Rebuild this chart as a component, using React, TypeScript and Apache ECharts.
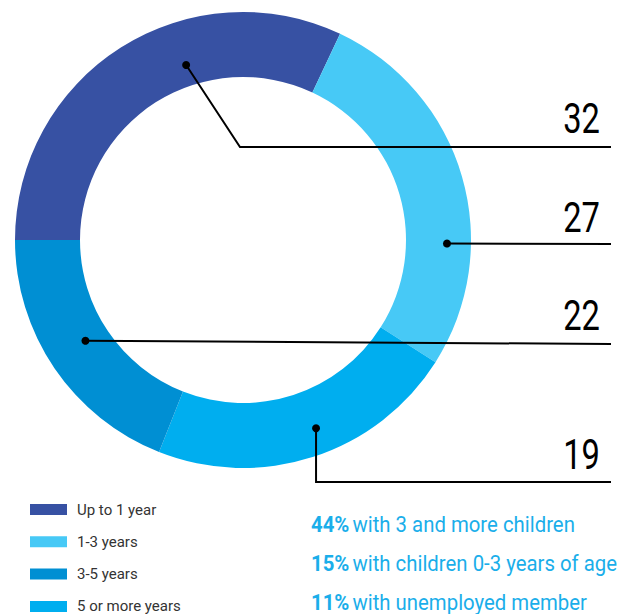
import React, { useEffect, useRef } from "react";
import * as echarts from "echarts";

// Ring slices in clockwise order starting at 9 o'clock
const sliceNames = ["Up to 1 year", "1-3 years", "5 or more years", "3-5 years"];
const sliceValues = [32, 27, 22, 19];
const sliceColors = ["#3751A3", "#47C9F6", "#00AEEF", "#008FD3"];
const legendOrder = ["Up to 1 year", "1-3 years", "3-5 years", "5 or more years"];

// Call-out numbers shown on the right, top to bottom
const calloutTexts = ["32", "27", "22", "19"];
// anchor dot of each call-out in polar coords around the ring centre (deg, px)
const calloutAngles = [108, -1, 212.6, -68.8];
const calloutRadii = [184, 204, 187, 202];

const factValues = ["44%", "15%", "11%"];
const factTexts = ["with 3 and more children", "with children 0-3 years of age", "with unemployed member"];

const FONT = "Roboto, 'Noto Sans', sans-serif";

export default function App() {
  const ref = useRef<HTMLDivElement>(null);
  useEffect(() => {
    if (!ref.current) return;
    const chart = echarts.init(ref.current, undefined, { renderer: "svg" });
    const cx = 243, cy = 240, rIn = 163, rOut = 228;
    const rightX = 611;
    const dots = calloutAngles.map((a, i) => {
      const rad = (a * Math.PI) / 180;
      return [cx + calloutRadii[i] * Math.cos(rad), cy - calloutRadii[i] * Math.sin(rad)];
    });
    const leaderY = [147, 244, 344, 482];
    const paths: number[][][] = [
      [dots[0], [240, leaderY[0]], [rightX, leaderY[0]]],
      [dots[1], [rightX, leaderY[1]]],
      [dots[2], [rightX, leaderY[2]]],
      [dots[3], [dots[3][0], leaderY[3]], [rightX, leaderY[3]]],
    ];
    const numberY = [118, 217, 315, 454];
    const graphics: any[] = [];
    paths.forEach((pts) => {
      graphics.push({
        type: "polyline",
        shape: { points: pts },
        style: { stroke: "#000", lineWidth: 2, fill: null },
        z: 10,
      });
    });
    dots.forEach((d) => {
      graphics.push({ type: "circle", shape: { cx: d[0], cy: d[1], r: 4 }, style: { fill: "#000" }, z: 11 });
    });
    calloutTexts.forEach((t, i) => {
      graphics.push({
        type: "text",
        x: 600,
        y: numberY[i],
        scaleX: 0.76,
        style: { text: t, fontFamily: FONT, fontSize: 43, fill: "#000", align: "right", verticalAlign: "middle" },
        z: 12,
      });
    });
    const factY = [524, 563, 602];
    factValues.forEach((v, i) => {
      graphics.push({
        type: "text",
        x: 311,
        y: factY[i],
        scaleX: 0.925,
        style: {
          text: `{b|${v}} {n|${factTexts[i]}}`,
          verticalAlign: "middle",
          rich: {
            b: { fontFamily: FONT, fontSize: 22, fontWeight: "bold", fill: "#1AAEEA" },
            n: { fontFamily: FONT, fontSize: 22, fill: "#1AAEEA" },
          },
        },
      });
    });

    chart.setOption({
      animation: false,
      color: sliceColors,
      legend: {
        data: legendOrder,
        orient: "vertical",
        left: 30,
        top: 502,
        height: 140,
        padding: 0,
        icon: "rect",
        itemWidth: 37,
        itemHeight: 11,
        itemGap: 17.3,
        selectedMode: false,
        textStyle: { fontFamily: FONT, fontSize: 15, color: "#333", padding: [0, 0, 0, 5], lineHeight: 14 },
      },
      series: [
        {
          type: "pie",
          center: [cx, cy],
          radius: [rIn, rOut],
          startAngle: 180,
          clockwise: true,
          silent: true,
          label: { show: false },
          labelLine: { show: false },
          itemStyle: { borderWidth: 0 },
          data: sliceNames.map((n, i) => ({ name: n, value: sliceValues[i], itemStyle: { color: sliceColors[i] } })),
        },
      ],
      graphic: graphics,
    });
    return () => chart.dispose();
  }, []);
  return <div ref={ref} style={{ position: "absolute", left: 0, top: 0, width: 628, height: 614 }} />;
}
